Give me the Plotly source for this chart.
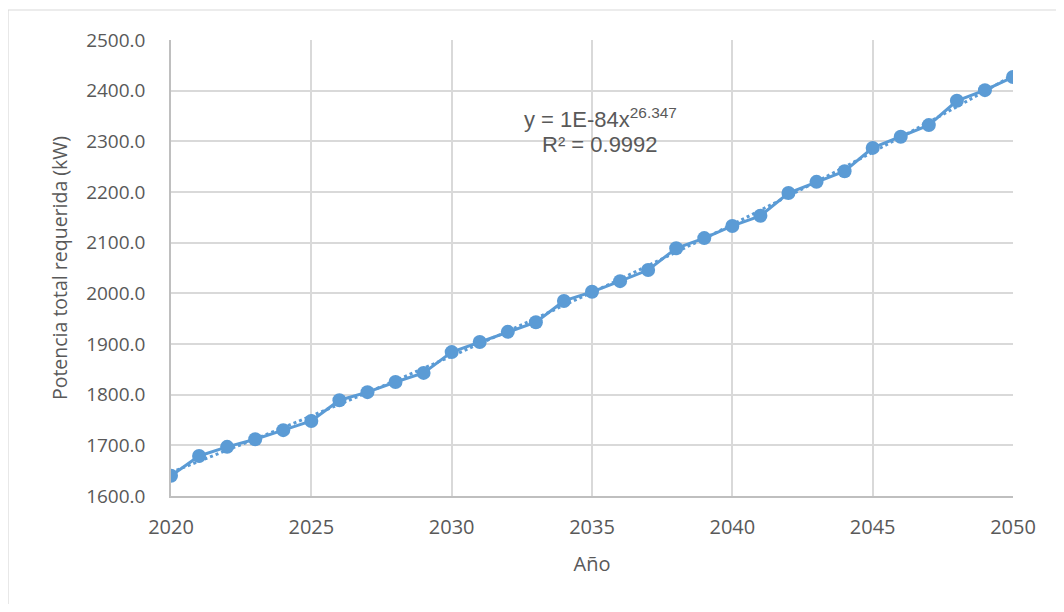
import numpy as np
import plotly.graph_objects as go

years = list(range(2020, 2051))
potencia = [1640, 1679, 1697, 1712, 1730, 1748, 1789, 1805, 1825, 1843,
            1884, 1904, 1924, 1943, 1985, 2003, 2024, 2046, 2089, 2109,
            2133, 2153, 2198, 2220, 2241, 2287, 2309, 2332, 2380, 2401, 2427]
y_ticks = [1600, 1700, 1800, 1900, 2000, 2100, 2200, 2300, 2400, 2500]
x_ticks = [2020, 2025, 2030, 2035, 2040, 2045, 2050]
eq_text = "y = 1E-84x<sup>26.347</sup>"
r2_text = "R² = 0.9992"

# power trendline fitted from the data (log-log least squares)
xa = np.array(years, dtype=float)
ya = np.array(potencia, dtype=float)
b, lna = np.polyfit(np.log(xa), np.log(ya), 1)
trend = np.exp(lna) * xa ** b

color = "#5b9bd5"
OFF = 8  # default body margin of the page
W, H = 1064 - 2 * OFF, 612 - 2 * OFF
L, T = 171 - OFF, 40 - OFF
R = (1064 - OFF) - 1013
B = (612 - OFF) - 496
pw, ph = W - L - R, H - T - B

fig = go.Figure()
fig.add_trace(go.Scatter(x=years, y=trend, mode="lines",
                         line=dict(color=color, width=3, dash="dot"),
                         showlegend=False, hoverinfo="skip"))
fig.add_trace(go.Scatter(x=years, y=potencia, mode="lines+markers",
                         line=dict(color=color, width=3),
                         marker=dict(color=color, size=14),
                         showlegend=False))

grey = "#595959"
fig.update_xaxes(range=[2020, 2050], tickvals=x_ticks, ticktext=[str(v) for v in x_ticks],
                 showgrid=True, gridcolor="#d9d9d9", gridwidth=1.5,
                 showline=True, linecolor="#bfbfbf", linewidth=1.5,
                 zeroline=False, ticks="",
                 tickfont=dict(family="Open Sans", size=20, color=grey), ticklabelstandoff=12,
                 title=dict(text="Año", font=dict(family="Open Sans", size=20, color=grey),
                            standoff=18))
fig.update_yaxes(range=[1600, 2500], tickvals=y_ticks, ticktext=[f"{v:.1f}" for v in y_ticks],
                 showgrid=True, gridcolor="#d9d9d9", gridwidth=1.5,
                 showline=True, linecolor="#bfbfbf", linewidth=1.5,
                 zeroline=False, ticks="",
                 tickfont=dict(family="Open Sans", size=19, color=grey), ticklabelstandoff=20,
                 title=dict(text="Potencia total requerida (kW)",
                            font=dict(family="Open Sans", size=19.5, color=grey),
                            standoff=13))

annfont = dict(family="Liberation Sans", size=22, color=grey)
cx = (600 - 171) / pw
fig.add_annotation(x=cx, y=1 - (118 - 40) / ph, xref="paper", yref="paper",
                   text=eq_text, showarrow=False, font=annfont, xanchor="center", yanchor="middle")
fig.add_annotation(x=cx, y=1 - (144 - 40) / ph, xref="paper", yref="paper",
                   text=r2_text, showarrow=False, font=annfont, xanchor="center", yanchor="middle")

# chart-area border (top and left visible)
bx = (8 - 171) / pw
by = 1 + (40 - 10) / ph
fig.add_shape(type="line", xref="paper", yref="paper", x0=bx, x1=1 + R / pw + 0.02, y0=by, y1=by,
              line=dict(color="#d9d9d9", width=1.2))
fig.add_shape(type="line", xref="paper", yref="paper", x0=bx, x1=bx, y0=by, y1=-B / ph - 0.03,
              line=dict(color="#d9d9d9", width=1.2))

fig.update_layout(width=W, height=H, margin=dict(l=L, r=R, t=T, b=B),
                  paper_bgcolor="white", plot_bgcolor="white")
fig.write_html("out.html")
